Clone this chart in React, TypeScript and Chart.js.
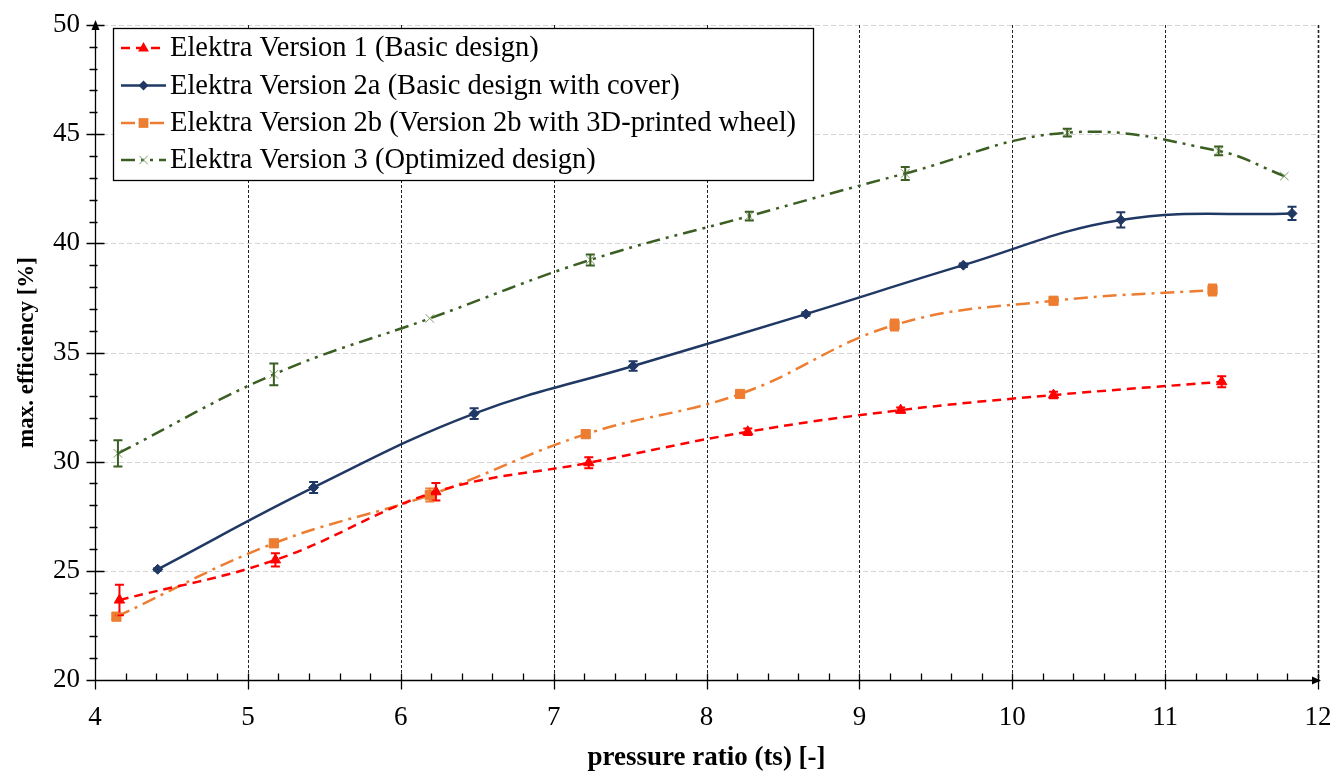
import React, { useEffect, useRef } from 'react';
import { Chart, registerables } from 'chart.js';

Chart.register(...registerables);

const FONT = "'Liberation Serif', 'Times New Roman', serif";

// ---- data ----
const seriesNames = [
  'Elektra Version 1 (Basic design)',
  'Elektra Version 2a (Basic design with cover)',
  'Elektra Version 2b (Version 2b with 3D-printed wheel)',
  'Elektra Version 3 (Optimized design)',
];

const v1X = [4.16, 5.18, 6.23, 7.23, 8.27, 9.27, 10.27, 11.37];
const v1Y = [23.66, 25.5, 28.62, 29.95, 31.37, 32.36, 33.05, 33.66];
const v1Err = [0.7, 0.3, 0.4, 0.25, 0.15, 0.12, 0.15, 0.25];

const v2aX = [4.41, 5.43, 6.48, 7.52, 8.65, 9.68, 10.71, 11.83];
const v2aY = [25.07, 28.82, 32.2, 34.38, 36.76, 39.0, 41.07, 41.37];
const v2aErr = [0.05, 0.25, 0.25, 0.22, 0.08, 0.08, 0.35, 0.3];

const v2bX = [4.14, 5.17, 6.19, 7.21, 8.22, 9.23, 10.27, 11.31];
const v2bY = [22.9, 26.26, 28.47, 31.26, 33.1, 36.26, 37.37, 37.86];
const v2bErr = [0.15, 0.15, 0.3, 0.15, 0.12, 0.25, 0.15, 0.25];

const v3X = [4.15, 5.17, 6.19, 7.24, 8.28, 9.3, 10.36, 11.35, 11.78];
const v3Y = [30.38, 34.0, 36.56, 39.24, 41.25, 43.2, 45.07, 44.23, 43.08];
const v3Err = [0.6, 0.5, 0, 0.25, 0.2, 0.3, 0.18, 0.2, 0];

const xTicks = [4, 5, 6, 7, 8, 9, 10, 11, 12];
const yTicks = [20, 25, 30, 35, 40, 45, 50];

const xTitle = 'pressure ratio (ts) [-]';
const yTitle = 'max. efficiency [%]';

// ---- styles ----
const styles = [
  { line: '#FF0000', marker: '#FF0000', err: '#FF0000', dash: [9, 6], point: 'triangle', radius: 6 },
  { line: '#203864', marker: '#203864', err: '#203864', dash: [], point: 'rectRot', radius: 5 },
  { line: '#ED7D31', marker: '#ED7D31', err: '#ED7D31', dash: [14, 6, 3, 6], point: 'rect', radius: 6.5 },
  { line: '#3B5E22', marker: '#7A9A62', err: '#3B5E22', dash: [14, 6, 3, 6, 3, 6], point: 'crossRot', radius: 6 },
];

const xs = [v1X, v2aX, v2bX, v3X];
const ys = [v1Y, v2aY, v2bY, v3Y];
const errs = [v1Err, v2aErr, v2bErr, v3Err];

function drawMarker(ctx: CanvasRenderingContext2D, style: string, x: number, y: number, r: number, color: string) {
  ctx.save();
  ctx.fillStyle = color;
  ctx.strokeStyle = color;
  ctx.setLineDash([]);
  ctx.beginPath();
  if (style === 'triangle') {
    ctx.moveTo(x, y - r);
    ctx.lineTo(x + r * 0.9, y + r * 0.6);
    ctx.lineTo(x - r * 0.9, y + r * 0.6);
    ctx.closePath();
    ctx.fill();
  } else if (style === 'rectRot') {
    ctx.moveTo(x, y - r);
    ctx.lineTo(x + r, y);
    ctx.lineTo(x, y + r);
    ctx.lineTo(x - r, y);
    ctx.closePath();
    ctx.fill();
  } else if (style === 'rect') {
    const h = r * 0.75;
    ctx.rect(x - h, y - h, 2 * h, 2 * h);
    ctx.fill();
  } else {
    ctx.lineWidth = 1;
    const h = r * 0.7;
    ctx.moveTo(x - h, y - h);
    ctx.lineTo(x + h, y + h);
    ctx.moveTo(x + h, y - h);
    ctx.lineTo(x - h, y + h);
    ctx.stroke();
  }
  ctx.restore();
}

const gridPlugin = {
  id: 'customGrid',
  beforeDatasetsDraw(chart: any) {
    const { ctx, chartArea, scales } = chart;
    const { left, right, top, bottom } = chartArea;
    ctx.save();
    ctx.strokeStyle = '#d4d4d4';
    ctx.lineWidth = 1;
    ctx.setLineDash([5, 3]);
    for (const v of yTicks) {
      if (v === 20) continue;
      const y = Math.round(scales.y.getPixelForValue(v)) + 0.5;
      ctx.beginPath();
      ctx.moveTo(left, y);
      ctx.lineTo(right, y);
      ctx.stroke();
    }
    ctx.strokeStyle = '#222';
    ctx.setLineDash([3, 2]);
    for (const v of xTicks) {
      if (v === 4) continue;
      const x = Math.round(scales.x.getPixelForValue(v)) + 0.5;
      ctx.lineWidth = v === 12 ? 1.6 : 1;
      ctx.beginPath();
      ctx.moveTo(x, top);
      ctx.lineTo(x, bottom);
      ctx.stroke();
    }
    ctx.restore();
  },
  afterDatasetsDraw(chart: any) {
    const { ctx, chartArea, scales } = chart;
    const { left, right, top, bottom } = chartArea;
    // error bars
    ctx.save();
    ctx.setLineDash([]);
    ctx.lineWidth = 2;
    for (let i = 0; i < xs.length; i++) {
      ctx.strokeStyle = styles[i].err;
      for (let j = 0; j < xs[i].length; j++) {
        const e = errs[i][j];
        if (!e) continue;
        const x = scales.x.getPixelForValue(xs[i][j]);
        const y1 = scales.y.getPixelForValue(ys[i][j] + e);
        const y2 = scales.y.getPixelForValue(ys[i][j] - e);
        ctx.beginPath();
        ctx.moveTo(x, y1);
        ctx.lineTo(x, y2);
        ctx.moveTo(x - 4.5, y1);
        ctx.lineTo(x + 4.5, y1);
        ctx.moveTo(x - 4.5, y2);
        ctx.lineTo(x + 4.5, y2);
        ctx.stroke();
      }
    }
    ctx.restore();

    // axes
    ctx.save();
    ctx.strokeStyle = '#000';
    ctx.fillStyle = '#000';
    ctx.lineWidth = 1.3;
    ctx.setLineDash([]);
    const ax = Math.round(left) + 0.5;
    const ay = Math.round(bottom) + 0.5;
    ctx.beginPath();
    ctx.moveTo(ax, ay);
    ctx.lineTo(ax, top - 3);
    ctx.moveTo(ax, ay);
    ctx.lineTo(right + 2, ay);
    for (let v = 20; v <= 50; v += 1) {
      const y = Math.round(scales.y.getPixelForValue(v)) + 0.5;
      if (v % 5 === 0) {
        ctx.moveTo(ax - 9, y);
        ctx.lineTo(ax + 9, y);
      } else {
        ctx.moveTo(ax - 6, y);
        ctx.lineTo(ax + 2, y);
      }
    }
    for (let k = 0; k <= 40; k++) {
      const v = 4 + k * 0.2;
      const x = Math.round(scales.x.getPixelForValue(v)) + 0.5;
      if (k % 5 === 0) {
        ctx.moveTo(x, ay - 7);
        ctx.lineTo(x, ay + 9);
      } else {
        ctx.moveTo(x, ay - 7);
        ctx.lineTo(x, ay);
      }
    }
    ctx.stroke();
    ctx.beginPath();
    ctx.moveTo(ax, top - 5);
    ctx.lineTo(ax + 4, top + 5);
    ctx.lineTo(ax - 4, top + 5);
    ctx.closePath();
    ctx.fill();
    ctx.beginPath();
    ctx.moveTo(right + 3, ay);
    ctx.lineTo(right - 6, ay - 4);
    ctx.lineTo(right - 6, ay + 4);
    ctx.closePath();
    ctx.fill();
    ctx.restore();
  },
  afterDraw(chart: any) {
    const { ctx } = chart;
    const bx = 113.5, by = 28.5, bw = 700, bh = 152;
    ctx.save();
    ctx.fillStyle = '#fff';
    ctx.fillRect(bx, by, bw, bh);
    ctx.strokeStyle = '#000';
    ctx.lineWidth = 1.3;
    ctx.setLineDash([]);
    ctx.strokeRect(bx, by, bw, bh);
    const rows = [48, 85.5, 123, 160];
    ctx.font = `28.5px ${FONT}`;
    ctx.textBaseline = 'middle';
    ctx.textAlign = 'left';
    for (let i = 0; i < seriesNames.length; i++) {
      const s = styles[i];
      const y = rows[i];
      ctx.strokeStyle = s.line;
      ctx.lineWidth = 2.5;
      ctx.setLineDash(s.dash);
      ctx.beginPath();
      ctx.moveTo(121, y);
      ctx.lineTo(166, y);
      ctx.stroke();
      drawMarker(ctx, s.point, 143.5, y, s.radius, s.marker);
      ctx.fillStyle = '#000';
      ctx.fillText(seriesNames[i], 170, y + 1);
    }
    ctx.restore();
  },
};

export default function App() {
  const ref = useRef<HTMLCanvasElement>(null);
  useEffect(() => {
    document.body.style.margin = '0';
    const canvas = ref.current!;
    const datasets = seriesNames.map((name, i) => ({
      label: name,
      data: xs[i].map((x, j) => ({ x, y: ys[i][j] })),
      borderColor: styles[i].line,
      backgroundColor: styles[i].marker,
      pointBackgroundColor: styles[i].marker,
      pointBorderColor: styles[i].marker,
      pointBorderWidth: 1,
      borderWidth: 2.5,
      borderDash: styles[i].dash,
      pointStyle: styles[i].point as any,
      pointRadius: styles[i].radius,
      tension: 0.4,
      showLine: true,
      fill: false,
      clip: false as any,
    }));
    const chart = new Chart(canvas, {
      type: 'scatter',
      data: { datasets },
      options: {
        responsive: false,
        animation: false,
        devicePixelRatio: 1,
        layout: { padding: { top: 25, right: 26, left: 0, bottom: 0 } },
        plugins: { legend: { display: false }, tooltip: { enabled: false } },
        scales: {
          x: {
            type: 'linear',
            min: 4,
            max: 12,
            afterBuildTicks: (s: any) => { s.ticks = xTicks.map((v) => ({ value: v })); },
            ticks: { font: { family: FONT, size: 27 }, color: '#000', padding: 22, maxRotation: 0, autoSkip: false },
            grid: { display: false, drawTicks: false },
            border: { display: false },
            title: { display: true, text: xTitle, color: '#000', font: { family: FONT, size: 27, weight: 'bold' }, padding: { top: 0, bottom: 0 } },
            afterFit: (s: any) => { s.height = 94; s.paddingLeft = 0; s.paddingRight = 0; s.paddingTop = 0; s.paddingBottom = 0; },
          },
          y: {
            type: 'linear',
            min: 20,
            max: 50,
            afterBuildTicks: (s: any) => { s.ticks = yTicks.map((v) => ({ value: v })); },
            ticks: { font: { family: FONT, size: 27 }, color: '#000', padding: 15, autoSkip: false },
            grid: { display: false, drawTicks: false },
            border: { display: false },
            title: { display: true, text: yTitle, color: '#000', font: { family: FONT, size: 23, weight: 'bold' }, padding: { top: 13, bottom: 0 } },
            afterFit: (s: any) => { s.width = 95; s.paddingTop = 0; s.paddingBottom = 0; s.paddingLeft = 0; s.paddingRight = 0; },
          },
        },
      },
      plugins: [gridPlugin],
    } as any);
    return () => chart.destroy();
  }, []);
  return (
    <div style={{ position: 'absolute', left: 0, top: 0, width: 1344, height: 774, background: '#fff' }}>
      <canvas ref={ref} width={1344} height={774} style={{ display: 'block' }} />
    </div>
  );
}
